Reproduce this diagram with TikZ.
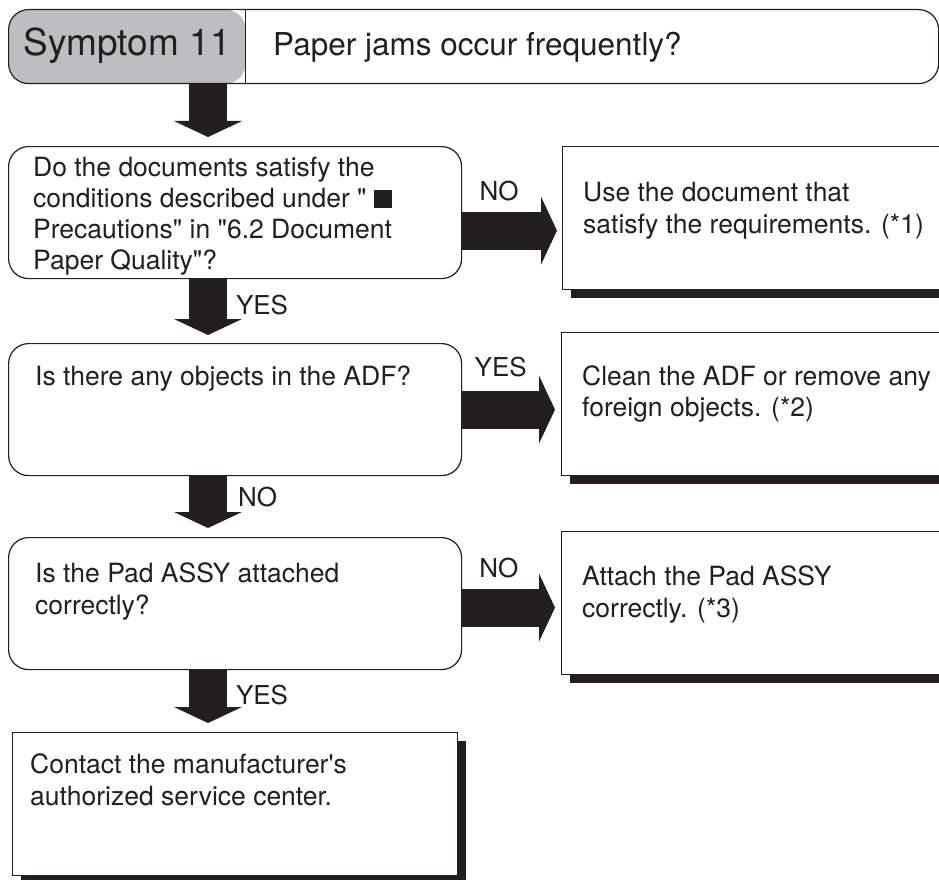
\documentclass[tikz,border=0pt]{standalone}
\usepackage{fontspec}
\setmainfont{TeX Gyre Heros}[Ligatures=TeXOff]
\usetikzlibrary{arrows.meta,positioning,shadows}
\definecolor{ink}{HTML}{231F20}
\definecolor{symgray}{HTML}{BCBEC0}

\begin{document}
\begin{tikzpicture}[x=1pt,y=-1pt,
    every node/.style={inner sep=0pt, text=ink},
    txt/.style={anchor=north west, align=left, font=\fontsize{26.5}{32}\selectfont},
    lbl/.style={outer sep=0pt, font=\fontsize{26}{30}\selectfont},
    hdrbox/.style={draw=ink, line width=1.2pt, rounded corners=20pt,
      minimum width=930pt, minimum height=74pt, anchor=north west,
      path picture={
        \fill[symgray] (path picture bounding box.north west) rectangle ([xshift=237pt]path picture bounding box.south west);
        \draw[ink, line width=1.2pt] ([xshift=237pt]path picture bounding box.north west) -- ([xshift=237pt]path picture bounding box.south west);}},
    askbox/.style={draw=ink, line width=1.2pt, rounded corners=20pt,
      minimum width=453pt, minimum height=132pt, anchor=north west},
    dobox/.style={draw=ink, fill=white, line width=1.2pt, minimum height=143pt, anchor=north west,
      drop shadow={shadow xshift=8pt, shadow yshift=-8pt, fill=ink, opacity=1}},
    fatarrow/.style={draw=ink, line width=38pt, -{Triangle[line width=0pt, length=16pt, width=68pt]}}]
  \path[use as bounding box, clip] (0,0) rectangle (939,880);

  \node[hdrbox] (hdr) at (8,9) {};
  \node[anchor=base, font=\fontsize{37}{42}\selectfont] (sym) at ([xshift=119pt,yshift=-9pt]hdr.west) {Symptom 11};
  \node[anchor=base west, font=\fontsize{31.5}{36}\selectfont] (title) at ([xshift=265pt,yshift=-9pt]hdr.west) {Paper jams occur frequently?};

  \node[askbox] (q1) at (8,146) {};
  \node[askbox] (q2) at (8,343) {};
  \node[askbox] (q3) at (8,537) {};
  \node[dobox, minimum width=400pt] (a1) at (562,146) {};
  \node[dobox, minimum width=400pt] (a2) at (561,332) {};
  \node[dobox, minimum width=400pt] (a3) at (561,531) {};
  \node[dobox, minimum width=445pt] (a4) at (12,732) {};

  \node[txt, font=\fontsize{26.5}{31}\selectfont] (q1t) at ([xshift=25pt,yshift=-11pt]q1.north west) {Do the documents satisfy the\\conditions described under " \rule{0.66em}{0.66em}\\Precautions" in "6.2 Document\\Paper Quality"?};
  \node[txt] (q2t) at ([xshift=27pt,yshift=-23pt]q2.north west) {Is there any objects in the ADF?};
  \node[txt] (q3t) at ([xshift=27pt,yshift=-25pt]q3.north west) {Is the Pad ASSY attached\\correctly?};
  \node[txt] (a1t) at ([xshift=21pt,yshift=-36pt]a1.north west) {Use the document that\\satisfy the requirements. (*1)};
  \node[txt] (a2t) at ([xshift=21pt,yshift=-33pt]a2.north west) {Clean the ADF or remove any\\foreign objects. (*2)};
  \node[txt] (a3t) at ([xshift=21pt,yshift=-34pt]a3.north west) {Attach the Pad ASSY\\correctly. (*3)};
  \node[txt] (a4t) at ([xshift=18pt,yshift=-21pt]a4.north west) {Contact the manufacturer's\\authorized service center.};

  \coordinate (spine) at (208,0);
  \draw[fatarrow, shorten >=9pt] (hdr.south -| spine) -- (q1.north -| spine);
  \draw[fatarrow, shorten >=8pt] (q1.south -| spine) -- node[lbl, right=28pt, pos=0.4] {YES} (q2.north -| spine);
  \draw[fatarrow, shorten >=9pt] (q2.south -| spine) -- node[lbl, right=30pt, pos=0.35] {NO} (q3.north -| spine);
  \draw[fatarrow, shorten >=9pt] (q3.south -| spine) -- node[lbl, right=28pt, pos=0.4] {YES} (a4.north -| spine);

  \draw[fatarrow, shorten >=5pt] ([yshift=-18pt]q1.east) -- node[lbl, above=30pt, pos=0.37] {NO} ([yshift=-18pt]q1.east -| a1.west);
  \draw[fatarrow, shorten >=6pt] (q2.east) -- node[lbl, above=33pt, pos=0.39] {YES} (q2.east -| a2.west);
  \draw[fatarrow, shorten >=6pt] ([yshift=-4pt]q3.east) -- node[lbl, above=30pt, pos=0.37] {NO} ([yshift=-4pt]q3.east -| a3.west);
\end{tikzpicture}
\end{document}
